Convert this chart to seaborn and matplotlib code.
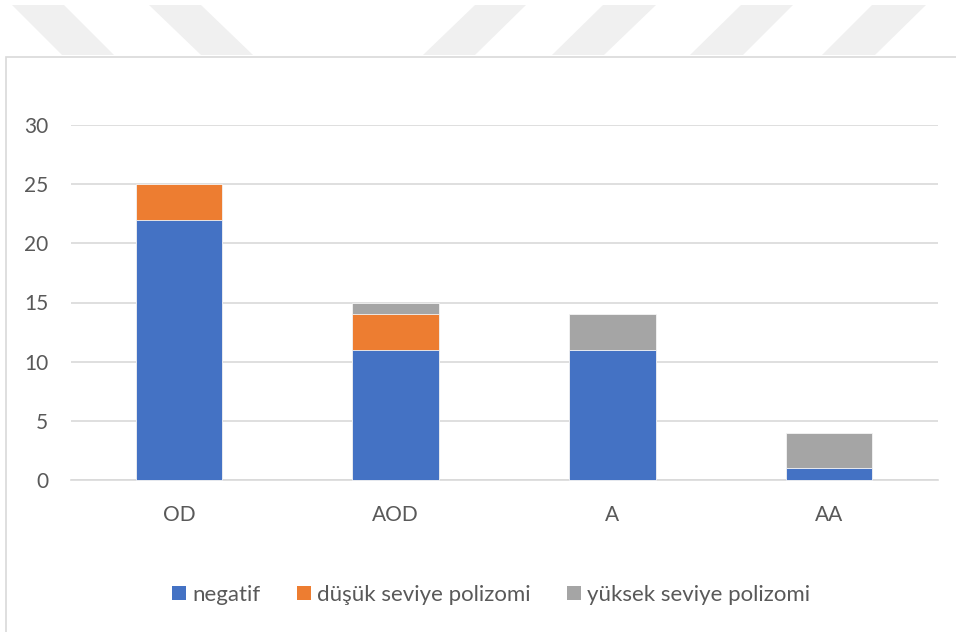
import matplotlib
matplotlib.use("Agg")
import matplotlib.pyplot as plt
from matplotlib.patches import Polygon, Rectangle, Patch
import pandas as pd
import seaborn as sns

categories = ["OD", "AOD", "A", "AA"]
negatif = [22, 11, 11, 1]
dusuk = [3, 3, 0, 0]
yuksek = [0, 1, 3, 3]
series_names = ["negatif", "düşük seviye polizomi", "yüksek seviye polizomi"]
colors = ["#4472C4", "#ED7D31", "#A5A5A5"]
y_ticks = [0, 5, 10, 15, 20, 25, 30]

sns.set_theme(style="white")
plt.rcParams["font.family"] = ["Lato", "DejaVu Sans"]

W, H = 956, 632
fig = plt.figure(figsize=(W / 100, H / 100), dpi=100)
fig.patch.set_facecolor("white")

# faint diagonal bands along the top edge of the page
bands = [
    [(12, 5), (64, 5), (114, 55), (62, 55)],
    [(149, 5), (201, 5), (253, 55), (201, 55)],
    [(475, 5), (526, 5), (475, 55), (423, 55)],
    [(603, 5), (656, 5), (604, 55), (552, 55)],
    [(741, 5), (793, 5), (743, 55), (690, 55)],
    [(872, 5), (926, 5), (875, 55), (822, 55)],
]
for b in bands:
    pts = [(x / W, 1 - y / H) for x, y in b]
    fig.patches.append(Polygon(pts, closed=True, transform=fig.transFigure,
                               facecolor="#f0f0f0", edgecolor="none", zorder=-2))

# chart frame
fig.patches.append(Rectangle((5.5 / W, -0.1), 1.2, 1 - 57 / H + 0.1,
                             transform=fig.transFigure, facecolor="white",
                             edgecolor="#d9d9d9", linewidth=1.2, zorder=-1))

ax = fig.add_axes([70.5 / W, 1 - 480 / H, 867 / W, 355 / H])
ax.set_facecolor("none")

df = pd.DataFrame({
    "category": categories,
    "negatif": negatif,
    "dusuk": dusuk,
    "yuksek": yuksek,
})
df["lvl1"] = df["negatif"]
df["lvl2"] = df["negatif"] + df["dusuk"]
df["lvl3"] = df["negatif"] + df["dusuk"] + df["yuksek"]

# stacked bars drawn as overlapping cumulative layers
for col, color in zip(["lvl3", "lvl2", "lvl1"], colors[::-1]):
    sns.barplot(data=df, x="category", y=col, color=color, width=0.4,
                saturation=1, edgecolor="#f4f4f4", linewidth=0.6, ax=ax, zorder=3)

ax.set_xlim(-0.5, 3.5)
ax.set_ylim(0, 30)
ax.set_yticks(y_ticks)
ax.set_yticklabels([str(t) for t in y_ticks])
ax.set_xlabel("")
ax.set_ylabel("")
ax.yaxis.grid(True, color="#d9d9d9", linewidth=1.2, zorder=0)
ax.set_axisbelow(True)
for s in ["top", "right", "left"]:
    ax.spines[s].set_visible(False)
ax.spines["bottom"].set_color("#d9d9d9")
ax.spines["bottom"].set_linewidth(1.2)
ax.tick_params(axis="both", length=0, colors="#595959", labelsize=15)
ax.tick_params(axis="y", pad=16)
ax.tick_params(axis="x", pad=18)
for c in ax.patches:
    c.set_clip_on(False)

handles = [Patch(facecolor=c, edgecolor="none") for c in colors]
fig.legend(handles, series_names, loc="center", bbox_to_anchor=(491 / W, 1 - 595 / H),
           ncol=3, frameon=False, fontsize=16, labelcolor="#595959",
           handlelength=0.63, handleheight=0.63, handletextpad=0.27,
           columnspacing=1.65)

fig.savefig("out.png", dpi=100, facecolor="white")
